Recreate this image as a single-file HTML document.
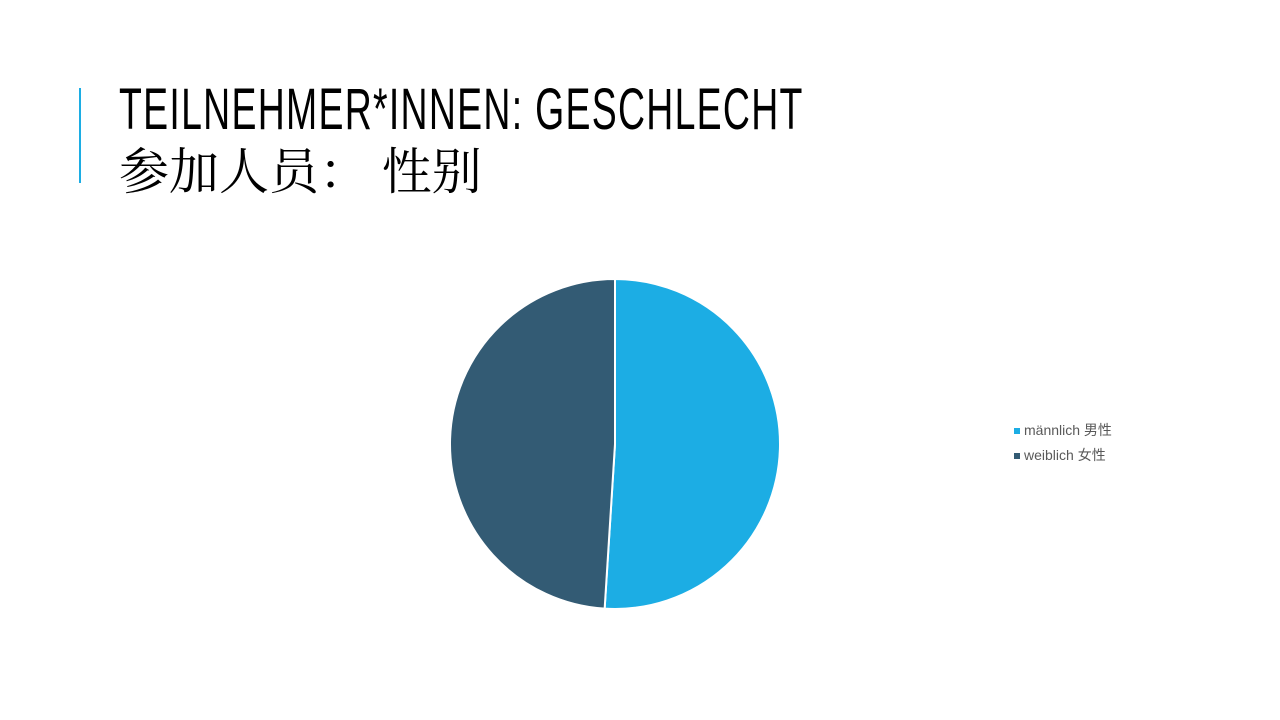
<!DOCTYPE html>
<html><head><meta charset="utf-8"><style>
body{margin:0;width:1280px;height:720px;background:#fff;overflow:hidden;position:relative;font-family:"Liberation Sans","Noto Sans CJK SC",sans-serif}
#bar{position:absolute;left:79px;top:88px;width:2px;height:95px;background:#1cade4}
#t1{position:absolute;left:119px;top:78px;font-size:58px;line-height:64px;white-space:nowrap;transform:scaleX(0.645);transform-origin:0 0;letter-spacing:2px;color:#000}
#t2{position:absolute;left:119px;top:138px;font-size:50px;line-height:60px;white-space:nowrap;font-family:"Noto Serif CJK SC",serif;color:#000}
.lg{position:absolute;left:1014px;font-size:14px;color:#595959;white-space:nowrap}
.sw{display:inline-block;width:6px;height:6px;margin-right:4px;vertical-align:1px}
</style></head><body>
<div id="bar"></div>
<div id="t1">TEILNEHMER*INNEN: GESCHLECHT</div>
<div id="t2">参加人员： 性别</div>
<svg id="pie" width="1280" height="720" style="position:absolute;left:0;top:0"></svg>
<div class="lg" style="top:420px"><span class="sw" style="background:#1cade4"></span>männlich 男性</div>
<div class="lg" style="top:445px"><span class="sw" style="background:#335b74"></span>weiblich 女性</div>
<script>
const categories=["männlich 男性","weiblich 女性"];
const values=[51,49];
const colors=["#1cade4","#335b74"];
const cx=615,cy=444,r=165;
const svg=document.getElementById('pie');
const total=values.reduce((a,b)=>a+b,0);
let a0=0;
values.forEach((v,i)=>{
  const a1=a0+v/total*2*Math.PI;
  const x0=cx+r*Math.sin(a0),y0=cy-r*Math.cos(a0),x1=cx+r*Math.sin(a1),y1=cy-r*Math.cos(a1);
  const p=document.createElementNS('http://www.w3.org/2000/svg','path');
  p.setAttribute('d',`M${cx},${cy}L${x0},${y0}A${r},${r} 0 ${a1-a0>Math.PI?1:0} 1 ${x1},${y1}Z`);
  p.setAttribute('fill',colors[i]);p.setAttribute('stroke','#fff');p.setAttribute('stroke-width','2');
  
  
  svg.appendChild(p);a0=a1;
});
</script>
</body></html>
